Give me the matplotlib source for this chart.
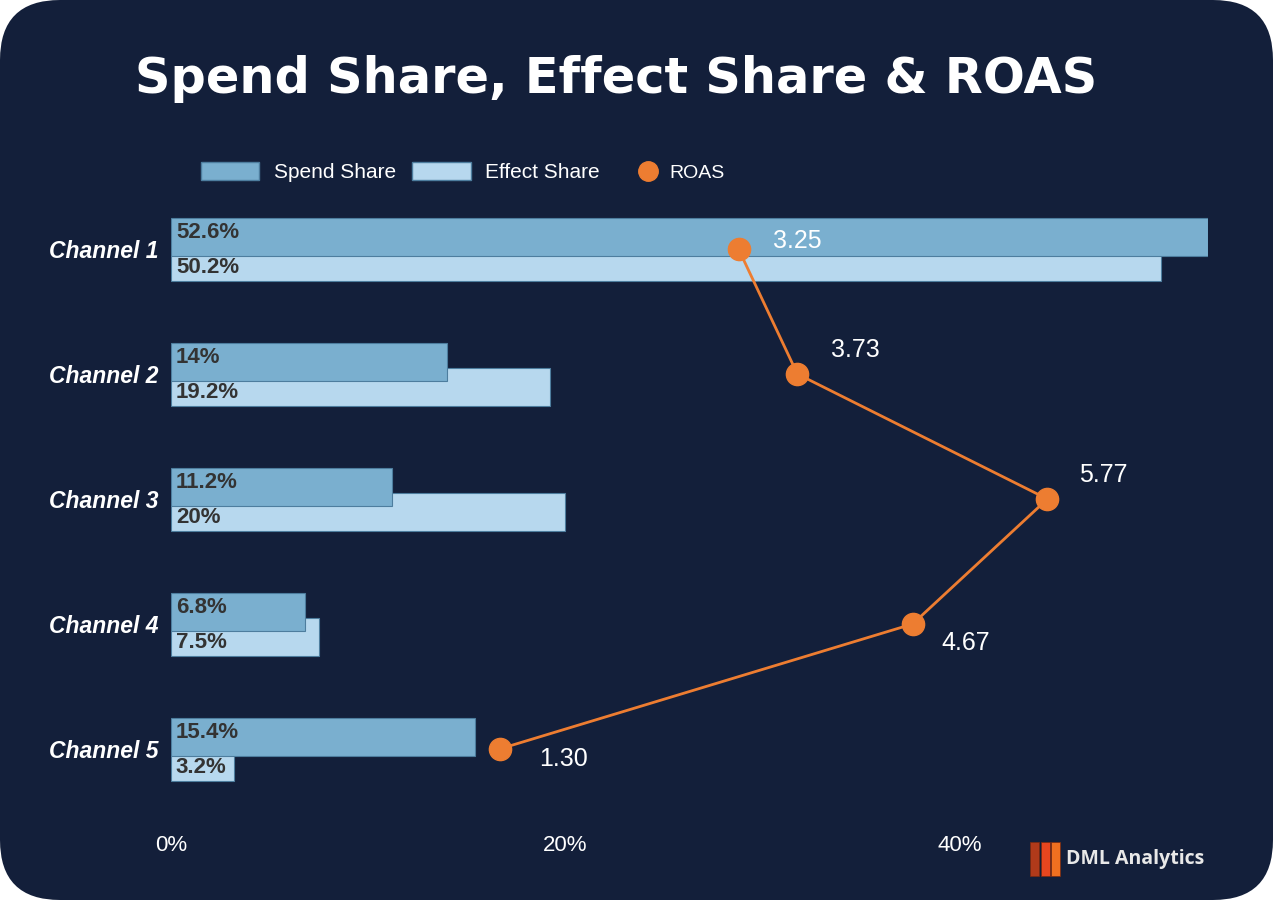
import matplotlib
matplotlib.use("Agg")
import matplotlib.pyplot as plt
from matplotlib.patches import FancyBboxPatch, Rectangle, Patch
from matplotlib.lines import Line2D

channels = ["Channel 1", "Channel 2", "Channel 3", "Channel 4", "Channel 5"]
spend_share = [52.6, 14.0, 11.2, 6.8, 15.4]
effect_share = [50.2, 19.2, 20.0, 7.5, 3.2]
spend_labels = ["52.6%", "14%", "11.2%", "6.8%", "15.4%"]
effect_labels = ["50.2%", "19.2%", "20%", "7.5%", "3.2%"]
roas = [3.25, 3.73, 5.77, 4.67, 1.30]
roas_labels = ["3.25", "3.73", "5.77", "4.67", "1.30"]

navy = "#131f3a"
spend_col = "#7aafcf"
effect_col = "#b7d8ee"
edge_col = "#4d7d9e"
orange = "#ed7d31"

plt.rcParams['font.family'] = ['Liberation Sans', 'DejaVu Sans']

fig = plt.figure(figsize=(12.73, 9), dpi=100)
fig.patch.set_facecolor("white")
bg = FancyBboxPatch((0, 0), 12.73, 9, boxstyle="round,pad=0,rounding_size=0.6",
                    transform=fig.dpi_scale_trans, facecolor=navy, edgecolor="none", zorder=-10)
fig.patches.append(bg)

ax = fig.add_axes([171 / 1273, 1 - 811.5 / 900, (1208 - 171) / 1273, 625 / 900])
ax.set_facecolor("none")
ypos = list(range(len(channels)))
h = 0.304
ax.barh([y + 0.1 for y in ypos], effect_share, height=h, color=effect_col,
        edgecolor=edge_col, linewidth=0.8, zorder=2)
ax.barh([y - 0.1 for y in ypos], spend_share, height=h, color=spend_col,
        edgecolor=edge_col, linewidth=0.8, zorder=3)
for y, s, e in zip(ypos, spend_labels, effect_labels):
    ax.text(0.25, y - 0.13, s, color="#333333", fontsize=16, fontweight="bold",
            va="center", ha="left", zorder=5)
    ax.text(0.25, y + 0.15, e, color="#333333", fontsize=16, fontweight="bold",
            va="center", ha="left", zorder=5)

ax.set_ylim(4.5, -0.5)
ax.set_xlim(0, 52.6)
ax.set_yticks(ypos)
ax.set_yticklabels(channels, color="white", fontsize=16.5, fontweight="bold", fontstyle="italic")
ax.set_xticks([0, 20, 40])
ax.set_xticklabels(["0%", "20%", "40%"], color="white", fontsize=16)
ax.tick_params(axis="both", length=0)
ax.tick_params(axis="y", pad=9)
ax.tick_params(axis="x", pad=17)
for sp in ax.spines.values():
    sp.set_visible(False)

ax2 = ax.twiny()
ax2.set_xlim(-1.38, 7.08)
ax2.plot(roas, ypos, color=orange, linewidth=2, marker="o", markersize=16, zorder=6)
offsets = [(42, 6), (42, 17), (40, 17), (38, -14), (46, -7)]
for r, y, lab, off in zip(roas, ypos, roas_labels, offsets):
    ax2.annotate(lab, (r, y), xytext=off, textcoords="offset points", color="white",
                 fontsize=18, va="center", ha="center", zorder=7)
ax2.set_xticks([])
for sp in ax2.spines.values():
    sp.set_visible(False)

fig.text(616 / 1273, 1 - 79 / 900, "Spend Share, Effect Share & ROAS", color="white",
         fontsize=35.6, fontweight="bold", ha="center", va="center", family="DejaVu Sans")

handles = [Patch(facecolor=spend_col, edgecolor=edge_col, label="Spend Share"),
           Patch(facecolor=effect_col, edgecolor=edge_col, label="Effect Share")]
leg = fig.legend(handles=handles, loc="center left", bbox_to_anchor=(182 / 1273, 1 - 172 / 900),
                 ncol=2, frameon=False, fontsize=15, labelcolor="white", handlelength=2.8,
                 handleheight=1.0, handletextpad=0.7, columnspacing=0.8)
leg2 = fig.legend(handles=[Line2D([], [], color=orange, marker="o", linestyle="none",
                                  markersize=14, label="ROAS")],
                  loc="center left", bbox_to_anchor=(621 / 1273, 1 - 173 / 900),
                  frameon=False, fontsize=14, labelcolor="white", handlelength=1.0,
                  handletextpad=0.6)

# logo
logo_cols = ["#b03a1a", "#e8461f", "#f07020"]
for i, c in enumerate(logo_cols):
    fig.patches.append(Rectangle(((1030 + i * 10.5) / 1273, 1 - 876 / 900), 9 / 1273, 34 / 900,
                                 transform=fig.transFigure, facecolor=c, edgecolor="#7a2a10",
                                 linewidth=0.5))
fig.text(1066 / 1273, 1 - 859 / 900, "DML Analytics", color="#e8e8e8", fontsize=14,
         fontweight="bold", ha="left", va="center", family="Open Sans")

fig.savefig("out.png", dpi=100, facecolor=fig.get_facecolor())
